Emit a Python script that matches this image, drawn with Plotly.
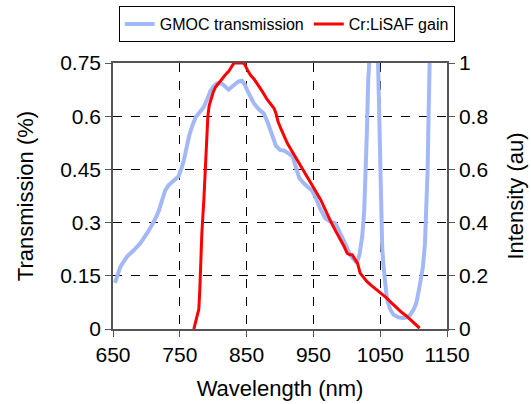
import plotly.graph_objects as go

# GMOC transmission (left axis)
gmoc_wl = [653, 657, 661, 666, 671, 681, 691, 701, 711, 718, 723, 728, 733, 741, 748,
           752, 756, 760, 764, 769, 774, 780, 786, 791, 796, 801, 806, 813, 818, 823,
           828, 833, 838, 843, 847, 851, 856, 861, 868, 876, 881, 886, 890, 894, 900,
           906, 913, 919, 924, 929, 936, 943, 948, 953, 960, 968, 975, 983, 988, 993,
           999, 1005, 1010, 1015, 1019, 1023, 1026, 1028, 1030, 1032, 1034, 1040, 1046,
           1048, 1049, 1050, 1051, 1053, 1055, 1058, 1060, 1065, 1070, 1077, 1085, 1090,
           1095, 1100, 1104, 1108, 1111, 1114, 1117, 1119, 1121, 1122, 1123, 1125]
gmoc_tr = [0.13, 0.155, 0.175, 0.19, 0.204, 0.222, 0.242, 0.27, 0.302, 0.33, 0.365, 0.39, 0.405, 0.418, 0.43,
           0.45, 0.475, 0.51, 0.545, 0.575, 0.598, 0.612, 0.626, 0.648, 0.672, 0.685, 0.693, 0.692, 0.682, 0.675,
           0.683, 0.692, 0.698, 0.7, 0.69, 0.673, 0.652, 0.636, 0.62, 0.607, 0.585, 0.56, 0.535, 0.516, 0.505,
           0.503, 0.495, 0.486, 0.455, 0.425, 0.41, 0.4, 0.39, 0.372, 0.34, 0.312, 0.303, 0.298, 0.28, 0.26,
           0.235, 0.209, 0.195, 0.186, 0.21, 0.26, 0.33, 0.41, 0.55, 0.7, 0.82, 0.95, 0.82,
           0.65, 0.5, 0.38, 0.3, 0.23, 0.176, 0.12, 0.085, 0.055, 0.04, 0.033, 0.031, 0.033,
           0.04, 0.055, 0.073, 0.11, 0.14, 0.176, 0.24, 0.32, 0.45, 0.56, 0.7, 0.85]

# Cr:LiSAF gain (right axis)
gain_wl = [771, 775, 778.5, 780, 781, 783, 786, 788, 790, 792, 794, 796, 800, 803.5, 808,
           813.5, 818, 823.5, 828, 831, 838, 846, 851, 856, 861, 866, 873, 881, 886, 891,
           894, 897, 901, 906, 911, 918, 926, 936, 946, 953, 961, 968, 976, 983, 991,
           996, 1000.5, 1004, 1008, 1012, 1016, 1020, 1025, 1030, 1037, 1045, 1052, 1060,
           1067, 1075, 1082, 1090, 1096, 1102, 1106, 1109]
gain_int = [0.0, 0.04, 0.075, 0.15, 0.235, 0.36, 0.485, 0.58, 0.673, 0.8, 0.84, 0.86, 0.89, 0.91, 0.925,
            0.94, 0.955, 0.97, 0.99, 1.0, 1.0, 1.0, 0.975, 0.954, 0.94, 0.923, 0.895, 0.862, 0.848, 0.83,
            0.81, 0.78, 0.755, 0.725, 0.698, 0.668, 0.635, 0.595, 0.554, 0.52, 0.485, 0.445, 0.404, 0.37, 0.335,
            0.31, 0.285, 0.28, 0.279, 0.262, 0.2475, 0.21, 0.195, 0.179, 0.163, 0.1475, 0.132, 0.116,
            0.098, 0.079, 0.063, 0.0475, 0.033, 0.016, 0.008, 0.003]

x_ticks = [650, 750, 850, 950, 1050, 1150]
y_ticks = [0, 0.15, 0.3, 0.45, 0.6, 0.75]
y2_ticks = [0, 0.2, 0.4, 0.6, 0.8, 1]

font = "Liberation Sans, Arial, sans-serif"

fig = go.Figure()
fig.add_trace(go.Scatter(x=gmoc_wl, y=gmoc_tr, mode="lines", name="GMOC transmission",
                         line=dict(color="#a3b9f7", width=4)))
fig.add_trace(go.Scatter(x=gain_wl, y=gain_int, mode="lines", name="Cr:LiSAF gain",
                         yaxis="y2", line=dict(color="#ff0000", width=3)))

axis_common = dict(showline=True, linecolor="#555", linewidth=1.5, ticks="outside",
                   ticklen=6, tickcolor="#555", zeroline=False, automargin=False,
                   tickfont=dict(size=21, color="black"))

fig.update_layout(
    width=531, height=404,
    margin=dict(l=113, r=84, t=63, b=75),
    plot_bgcolor="white", paper_bgcolor="white",
    font=dict(family=font, color="black"),
    xaxis=dict(range=[650, 1150], tickvals=x_ticks, mirror=True,
               title=dict(text="Wavelength (nm)", font=dict(size=22), standoff=16),
               showgrid=True, gridcolor="black", griddash="dash", gridwidth=1,
               **axis_common),
    yaxis=dict(range=[0, 0.75], tickvals=y_ticks, ticktext=["0", "0.15", "0.3", "0.45", "0.6", "0.75"],
               title=dict(text="Transmission (%)", font=dict(size=22), standoff=20),
               showgrid=True, gridcolor="black", griddash="dash", gridwidth=1,
               **axis_common),
    yaxis2=dict(range=[0, 1], tickvals=y2_ticks, ticktext=["0", "0.2", "0.4", "0.6", "0.8", "1"],
                overlaying="y", side="right", showgrid=False,
                title=dict(text="Intensity (au)", font=dict(size=22), standoff=20),
                **axis_common),
    legend=dict(orientation="h", xref="container", yref="container",
                x=0.54, xanchor="center", y=0.985, yanchor="top",
                bordercolor="black", borderwidth=1, bgcolor="white",
                font=dict(size=16), tracegroupgap=0),
    showlegend=True,
)

# drop the default page margin so the figure sits at the window's corner
fig.write_html("out.html", config={"displayModeBar": False},
               post_script="document.body.style.margin='0';")
